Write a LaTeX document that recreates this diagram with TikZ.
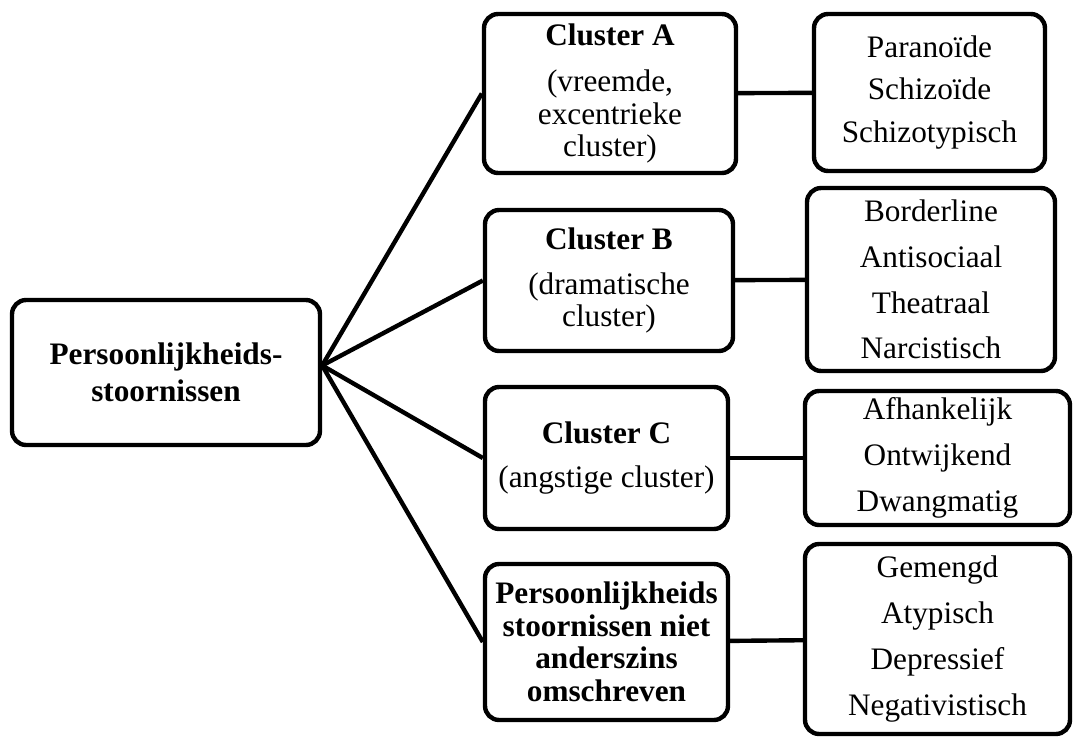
\documentclass[tikz,border=0pt]{standalone}
\usepackage{fontspec}
\setmainfont{Liberation Serif}
\usetikzlibrary{positioning}

\begin{document}
\begin{tikzpicture}[
  x=0.02cm, y=-0.02cm,
  every node/.style={font=\fontsize{17.8}{18.5}\selectfont},
  box/.style={draw, line width=2.5pt, rounded corners=8pt, align=center, inner sep=2pt},
  clbox/.style={box, minimum width=4.86cm},
  lsbox/.style={box, font=\fontsize{17.8}{26}\selectfont},
  link/.style={line width=2.5pt}]
  \useasboundingbox (0,0) rectangle (1076,738);
  % root
  \node[box, minimum width=6.16cm, minimum height=2.9cm,
        font=\bfseries\fontsize{17.8}{21}\selectfont] (pd) at (166,372.5)
        {Persoonlijkheids-\\stoornissen};
  \coordinate (hub) at ([yshift=0.14cm]pd.east);
  % clusters
  \node[clbox, minimum width=5.04cm, minimum height=3.18cm] (clA) at (610,93.5)
        {\textbf{Cluster A}\\[8pt](vreemde,\\excentrieke\\cluster)};
  \node[clbox, minimum width=4.96cm, minimum height=2.82cm] (clB) at (609,280.5)
        {\textbf{Cluster B}\\[7pt](dramatische\\cluster)};
  \node[clbox, minimum height=2.84cm] (clC) at (606.5,458)
        {\textbf{Cluster C}\\[7pt](angstige cluster)};
  \node[clbox, minimum height=3.12cm] (clD) at (606.5,642)
        {\bfseries Persoonlijkheids\\\bfseries stoornissen niet\\\bfseries anderszins\\\bfseries omschreven};
  % lists
  \node[lsbox, minimum width=4.62cm, minimum height=3.14cm,
        font=\fontsize{17.8}{24}\selectfont] (lsA) at (929.5,92.5)
        {Parano\"ide\\Schizo\"ide\\Schizotypisch};
  \node[lsbox, minimum width=4.96cm, minimum height=3.66cm] (lsB) at (931,279.5)
        {Borderline\\Antisociaal\\Theatraal\\Narcistisch};
  \node[lsbox, minimum width=5.3cm, minimum height=2.68cm] (lsC) at (937.5,458)
        {Afhankelijk\\Ontwijkend\\Dwangmatig};
  \node[lsbox, minimum width=5.3cm, minimum height=3.8cm] (lsD) at (937.5,639)
        {Gemengd\\Atypisch\\Depressief\\Negativistisch};
  % root to clusters
  \foreach \c in {clA,clB,clC,clD}
    \draw[link] (hub) -- (\c.west);
  % clusters to lists
  \draw[link] (clA) -- (lsA);
  \draw[link] (clB) -- (lsB);
  \draw[link] (clC) -- (lsC);
  \draw[link] (clD) -- (lsD);
\end{tikzpicture}
\end{document}
